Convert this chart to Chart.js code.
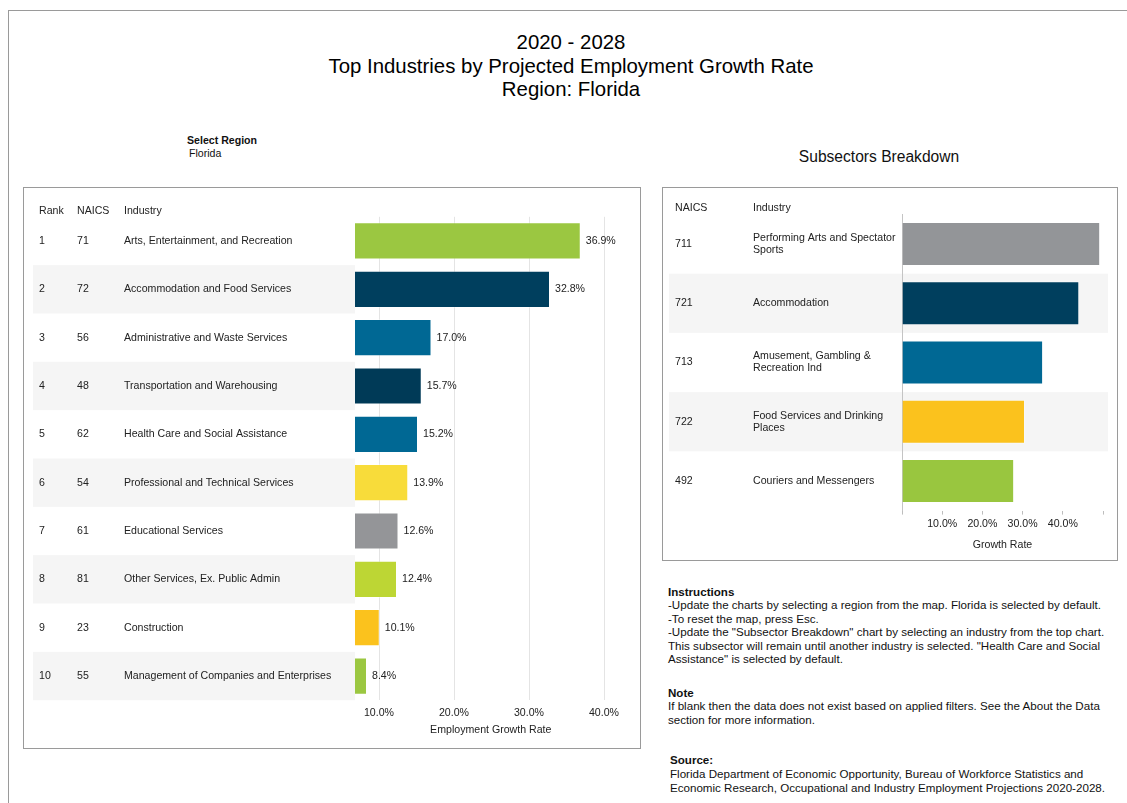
<!DOCTYPE html>
<html>
<head>
<meta charset="utf-8">
<script src="https://cdn.jsdelivr.net/npm/chart.js@4.4.1/dist/chart.umd.min.js"></script>
<style>
body { margin: 0; background: #fff; font-family: "Liberation Sans", Arial, sans-serif; color: #111; }
#page { position: relative; width: 1127px; height: 803px; overflow: hidden; }
.frame { position: absolute; left: 8px; top: 10px; width: 1300px; height: 900px; border-left: 1px solid #9a9a9a; border-top: 1px solid #9a9a9a; }
.title { position: absolute; left: 0; top: 31px; width: 1142px; text-align: center; font-size: 20.4px; line-height: 23.5px; color: #000; }
.select { position: absolute; left: 187px; top: 134px; font-size: 10.6px; line-height: 13px; }
.select b { display: block; }
.select span { padding-left: 2px; }
.subtitle { position: absolute; left: 662px; top: 148px; width: 434px; text-align: center; font-size: 15.6px; line-height: 18px; color: #111; }
.panel { position: absolute; border: 1px solid #9a9a9a; box-sizing: border-box; }
.panel canvas { position: absolute; left: 0; top: 0; }
.info { position: absolute; left: 668px; font-size: 11.6px; line-height: 13.4px; white-space: nowrap; color: #111; }
</style>
</head>
<body>
<div id="page">
  <div class="frame"></div>
  <div class="title">2020 - 2028<br>Top Industries by Projected Employment Growth Rate<br>Region: Florida</div>
  <div class="select"><b>Select Region</b><span>Florida</span></div>
  <div class="subtitle">Subsectors Breakdown</div>

  <div class="panel" style="left:23px; top:187px; width:618px; height:562px;">
    <canvas id="chart" width="616" height="560"></canvas>
  </div>
  <div class="panel" style="left:662px; top:187px; width:456px; height:374px;">
    <canvas id="subChart" width="454" height="372"></canvas>
  </div>

  <div class="info" style="top:585px;"><b>Instructions</b><br>-Update the charts by selecting a region from the map. Florida is selected by default.<br>-To reset the map, press Esc.<br>-Update the "Subsector Breakdown" chart by selecting an industry from the top chart.<br>This subsector will remain until another industry is selected. "Health Care and Social<br>Assistance" is selected by default.</div>
  <div class="info" style="top:686px;"><b>Note</b><br>If blank then the data does not exist based on applied filters. See the About the Data<br>section for more information.</div>
  <div class="info" style="top:753px; left:670px; line-height:14px;"><b>Source:</b><br>Florida Department of Economic Opportunity, Bureau of Workforce Statistics and<br>Economic Research, Occupational and Industry Employment Projections 2020-2028.</div>
</div>

<script>
// top industries
const ranks = ['1', '2', '3', '4', '5', '6', '7', '8', '9', '10'];
const naics = ['71', '72', '56', '48', '62', '54', '61', '81', '23', '55'];
const industries = [
    'Arts, Entertainment, and Recreation',
    'Accommodation and Food Services',
    'Administrative and Waste Services',
    'Transportation and Warehousing',
    'Health Care and Social Assistance',
    'Professional and Technical Services',
    'Educational Services',
    'Other Services, Ex. Public Admin',
    'Construction',
    'Management of Companies and Enterprises'
];
const growthRates = [36.9, 32.8, 17.0, 15.7, 15.2, 13.9, 12.6, 12.4, 10.1, 8.4];
const barColors = ['#9bc741', '#003f5e', '#006894', '#003a57', '#006894', '#f8dc3a', '#949598', '#bdd634', '#fbc21d', '#9bc741'];
const growthTicks = [10, 20, 30, 40];

// subsectors
const subNaics = ['711', '721', '713', '722', '492'];
const subIndustries = [
    ['Performing Arts and Spectator', 'Sports'],
    ['Accommodation'],
    ['Amusement, Gambling &', 'Recreation Ind'],
    ['Food Services and Drinking', 'Places'],
    ['Couriers and Messengers']
];
const subRates = [49.3, 44.1, 35.1, 30.6, 27.9];
const subColors = ['#939598', '#003f5e', '#006894', '#fbc21d', '#99c63f'];

Chart.defaults.font.family = '"Liberation Sans", Arial, sans-serif';
Chart.defaults.color = '#222';

const pct = v => v.toFixed(1) + '%';

// stripes, table columns and value labels drawn off the y scale
const tablePlugin = {
    id: 'table',
    beforeDraw(chart, args, opts) {
        const {ctx, chartArea, scales: {y}} = chart;
        const rowH = y.getPixelForValue(1) - y.getPixelForValue(0);
        const right = opts.stripeRight || chartArea.left;
        ctx.save();
        ctx.fillStyle = '#f5f5f5';
        for (let i = 1; i < opts.rows; i += 2) {
            const c = y.getPixelForValue(i);
            ctx.fillRect(opts.stripeLeft, c - rowH / 2, right - opts.stripeLeft, rowH);
        }
        ctx.restore();
    },
    afterDraw(chart, args, opts) {
        const {ctx, scales: {y}} = chart;
        ctx.save();
        ctx.font = '10.6px "Liberation Sans", Arial, sans-serif';
        ctx.fillStyle = '#222';
        ctx.textBaseline = 'middle';
        ctx.textAlign = 'left';
        opts.columns.forEach(col => {
            ctx.fillText(col.header, col.x, opts.headerY);
            col.values.forEach((v, i) => {
                const lines = Array.isArray(v) ? v : [v];
                const c = y.getPixelForValue(i);
                lines.forEach((line, k) => {
                    ctx.fillText(line, col.x, c + (k - (lines.length - 1) / 2) * 12);
                });
            });
        });
        if (opts.valueLabels) {
            const meta = chart.getDatasetMeta(0);
            meta.data.forEach((bar, i) => {
                ctx.fillText(pct(chart.data.datasets[0].data[i]), bar.x + 5, bar.y);
            });
        }
        ctx.restore();
    }
};

new Chart(document.getElementById('chart'), {
    type: 'bar',
    data: {
        labels: industries,
        datasets: [{
            data: growthRates,
            backgroundColor: barColors,
            borderColor: 'rgba(255,255,255,0.35)',
            borderWidth: 1,
            barPercentage: 0.77,
            categoryPercentage: 1
        }]
    },
    plugins: [tablePlugin],
    options: {
        indexAxis: 'y',
        responsive: false,
        animation: false,
        layout: { padding: { left: 331, right: 13.5, top: 28.8, bottom: 7.8 } },
        plugins: {
            legend: { display: false },
            tooltip: { enabled: false },
            table: {
                rows: industries.length,
                stripeLeft: 9,
                headerY: 23,
                valueLabels: true,
                columns: [
                    { x: 15, header: 'Rank', values: ranks },
                    { x: 53, header: 'NAICS', values: naics },
                    { x: 100, header: 'Industry', values: industries }
                ]
            }
        },
        scales: {
            x: {
                min: 6.8,
                max: 43,
                afterBuildTicks: s => { s.ticks = growthTicks.map(v => ({ value: v })); },
                afterFit: s => { s.height = 40; },
                grid: { color: '#e4e4e4', drawTicks: false },
                border: { display: false },
                ticks: { padding: 7, color: '#222', font: { size: 10.6 }, callback: v => pct(v) },
                title: { display: true, text: 'Employment Growth Rate', color: '#222', font: { size: 10.6 }, padding: { top: 0, bottom: 4 } }
            },
            y: { display: false }
        }
    }
});

new Chart(document.getElementById('subChart'), {
    type: 'bar',
    data: {
        labels: subNaics,
        datasets: [{
            data: subRates,
            backgroundColor: subColors,
            borderColor: 'rgba(255,255,255,0.35)',
            borderWidth: 1,
            barPercentage: 0.74,
            categoryPercentage: 1
        }]
    },
    plugins: [tablePlugin],
    options: {
        indexAxis: 'y',
        responsive: false,
        animation: false,
        layout: { padding: { left: 239, right: 14, top: 26.4, bottom: 4.4 } },
        plugins: {
            legend: { display: false },
            tooltip: { enabled: false },
            table: {
                rows: subNaics.length,
                stripeLeft: 6,
                stripeRight: 445,
                headerY: 20,
                valueLabels: false,
                columns: [
                    { x: 12, header: 'NAICS', values: subNaics },
                    { x: 90, header: 'Industry', values: subIndustries }
                ]
            }
        },
        scales: {
            x: {
                min: 0,
                max: 50,
                afterFit: s => { s.height = 45; },
                grid: { drawOnChartArea: false, drawTicks: true, tickLength: 4, color: '#bdbdbd' },
                border: { display: false },
                ticks: {
                    stepSize: 10, padding: 3, color: '#222', font: { size: 10.6 },
                    callback: v => (v === 0 || v === 50) ? '' : pct(v)
                },
                title: { display: true, text: 'Growth Rate', color: '#222', font: { size: 10.6 }, padding: { top: 0, bottom: 4.3 } }
            },
            y: {
                afterFit: s => { s.width = 0; },
                ticks: { display: false },
                grid: { display: false },
                border: { display: true, dash: [2, 2], color: '#c4c4c4' }
            }
        }
    }
});
</script>
</body>
</html>
